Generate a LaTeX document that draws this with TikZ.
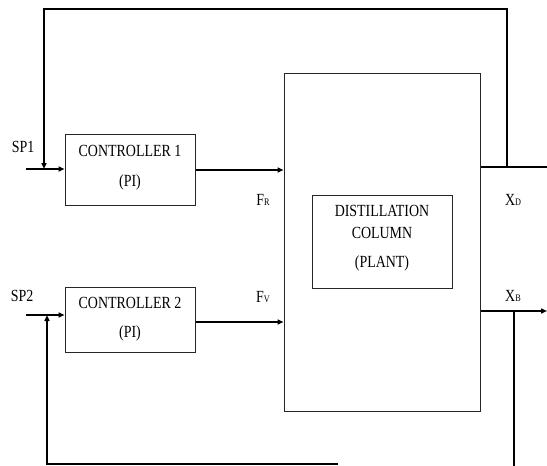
\documentclass[tikz,border=0pt]{standalone}
\usepackage{fontspec}
\setmainfont[FakeStretch=0.82]{Liberation Serif}
\usetikzlibrary{arrows.meta}
\begin{document}
\begin{tikzpicture}[x=1pt,y=-1pt,
  blk/.style={draw=black!85,line width=1pt,inner sep=0pt},
  sig/.style={line width=1.6pt,black},
  arr/.style={sig,-{Triangle[length=6pt,width=5pt]}},
  lbl/.style={font=\fontsize{17}{19}\selectfont,inner sep=0pt}]
\useasboundingbox (0,0) rectangle (547,466);
% blocks
\node[blk,minimum width=130pt,minimum height=71pt] (c1) at (130,169.5) {};
\node[lbl] (c1a) at (130,151) {CONTROLLER 1};
\node[lbl] (c1b) at (130,182) {(PI)};
\node[blk,minimum width=130pt,minimum height=65pt] (c2) at (130,319.5) {};
\node[lbl] (c2a) at (130,303) {CONTROLLER 2};
\node[lbl] (c2b) at (130,333) {(PI)};
\node[blk,minimum width=196pt,minimum height=338pt] (plant) at (382,242) {};
\node[blk,minimum width=140pt,minimum height=93pt] (inner) at (382,241.5) {};
\node[lbl] (d1) at (382,211) {DISTILLATION};
\node[lbl] (d2) at (382,233) {COLUMN};
\node[lbl] (d3) at (382,263) {(PLANT)};
% labels
\node[lbl] (sp1) at (23,147) {SP1};
\node[lbl] (sp2) at (22,296) {SP2};
\node[lbl] (fr) at (263,200) {F{\fontsize{10}{11}\selectfont R}};
\node[lbl] (fv) at (263,297) {F{\fontsize{10}{11}\selectfont V}};
\node[lbl] (xd) at (513,200) {X{\fontsize{10}{11}\selectfont D}};
\node[lbl] (xb) at (513,296) {X{\fontsize{10}{11}\selectfont B}};
% coordinates
\coordinate (sp1in) at (26,169);
\coordinate (sp2in) at (26,315);
\coordinate (fb1) at (44,169);
\coordinate (fb2) at (47,315);
\coordinate (xdj) at (507,167);
\coordinate (xdend) at (547,167);
\coordinate (xbj) at (514,311);
\coordinate (xbend) at (547,311);
\coordinate (topl) at (44,9);
\coordinate (topr) at (507,9);
\coordinate (botl) at (47,464);
\coordinate (botr) at (338,464);
\coordinate (xbbot) at (514,466);
% signals
\draw[arr] (sp1in) -- (c1.west |- sp1in);
\draw[arr] (sp2in) -- (c2.west |- sp2in);
\draw[arr] (c1.east |- 0,170) -- (plant.west |- 0,170);
\draw[arr] (c2.east |- 0,322) -- (plant.west |- 0,322);
\draw[sig] (plant.east |- xdj) -- (xdend);
\draw[arr] (xdj) -- (topr) -- (topl) -- (fb1);
\draw[arr] (plant.east |- xbj) -- (xbend);
\draw[sig] (xbj) -- (xbbot);
\draw[arr] (botr) -- (botl) -- (fb2);
\end{tikzpicture}
\end{document}
